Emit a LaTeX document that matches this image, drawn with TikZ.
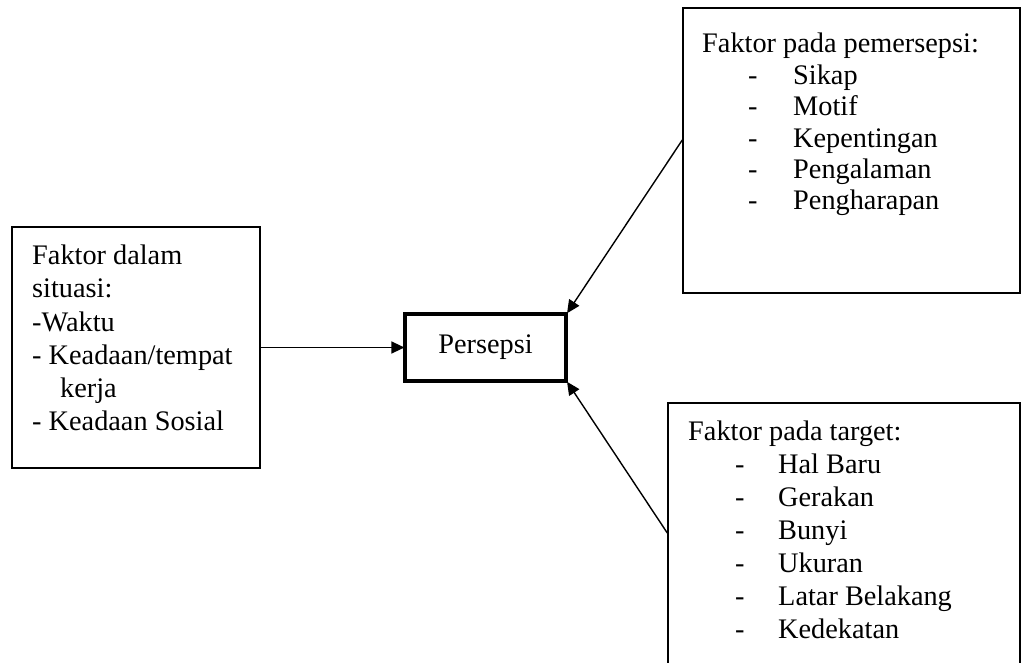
\documentclass[tikz,border=0pt]{standalone}
\usepackage{fontspec}
\setmainfont{Liberation Serif}
\usetikzlibrary{arrows.meta}
\begin{document}
\begin{tikzpicture}[x=1pt,y=1pt,
  thinbox/.style={draw, line width=1.4pt, inner sep=0pt},
  thickbox/.style={draw, line width=3.2pt, inner sep=0pt},
  txt/.style={anchor=base west, inner sep=0pt, font=\fontsize{28.3}{32}\selectfont},
  conn/.style={line width=1.4pt, -{Triangle[length=13pt,width=12pt]}, shorten >=-1pt}
]
\useasboundingbox (0,0) rectangle (1024,662);
\fill[white] (0,0) rectangle (1024,662);

% boxes (image y -> 662 - y)
\node[thinbox, minimum width=248pt, minimum height=241pt] (sit) at (136,314.5) {};
\node[thickbox, minimum width=161pt, minimum height=67pt,
      font=\fontsize{28.3}{32}\selectfont] (per) at (485.5,314.5) {Persepsi};
\node[thinbox, minimum width=337pt, minimum height=285pt] (pem) at (851.5,511.5) {};
\node[thinbox, minimum width=352pt, minimum height=299pt] (tar) at (844,109.5) {};

% left box text
\node[txt] (s1) at (32,397) {Faktor dalam};
\node[txt] (s2) at (32,364) {situasi:};
\node[txt] (s3) at (32,331) {-Waktu};
\node[txt] (s4) at (32,298) {- Keadaan/tempat};
\node[txt] (s5) at (60,265) {kerja};
\node[txt] (s6) at (32,232) {- Keadaan Sosial};

% top right text
\node[txt] (p0) at (702,609) {Faktor pada pemersepsi:};
\foreach \t [count=\i] in {Sikap,Motif,Kepentingan,Pengalaman,Pengharapan}{
  \node[txt] (pd\i) at (748,{609-31.4*\i}) {-};
  \node[txt] (pt\i) at (793,{609-31.4*\i}) {\t};
}

% bottom right text
\node[txt] (t0) at (688,222) {Faktor pada target:};
\foreach \t [count=\i] in {Hal Baru,Gerakan,Bunyi,Ukuran,Latar Belakang,Kedekatan}{
  \node[txt] (td\i) at (735,{222-33*\i}) {-};
  \node[txt] (tt\i) at (778,{222-33*\i}) {\t};
}

% connectors
\draw[conn] (sit.east) -- (per.west);
\draw[conn] ([yshift=10.5pt]pem.west) -- (per.north east);
\draw[conn] ([yshift=19.5pt]tar.west) -- (per.south east);
\end{tikzpicture}
\end{document}
